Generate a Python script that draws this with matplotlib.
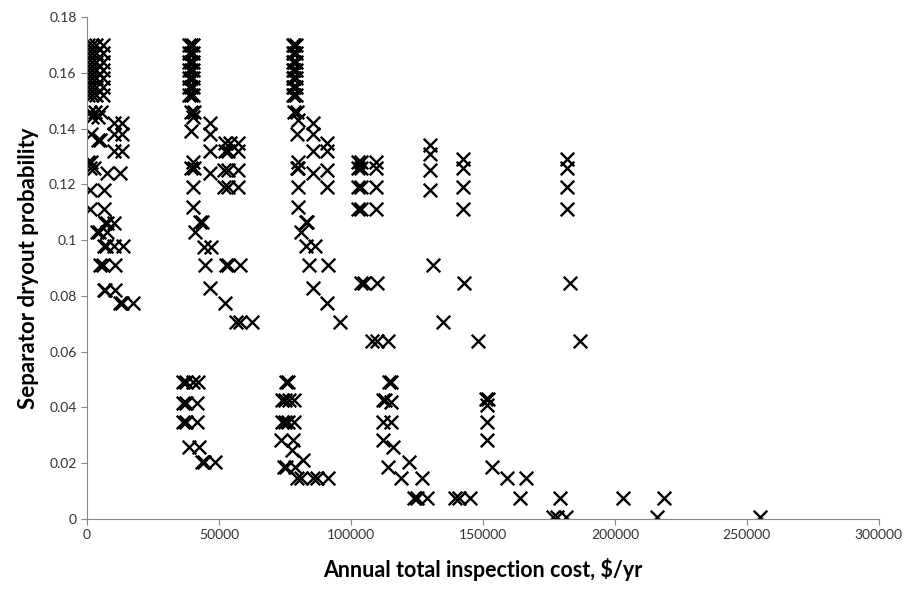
import matplotlib.pyplot as plt

# stacked points at the top of the three left clusters
stack_probs = [0.170, 0.167, 0.164, 0.161, 0.158, 0.155, 0.152]
stack_costs_a = [500, 2000, 3500, 6000]
stack_costs_b = [38500, 39500, 40200]
stack_costs_c = [78000, 78600, 79200]

# (probability, [costs]) rows
rows_a = [
    (0.146, [1000, 3000, 5500]), (0.144, [2000, 4000]), (0.142, [10200, 13300]),
    (0.138, [1500, 10200, 13300]), (0.136, [4000, 4800]), (0.132, [10200, 13300]),
    (0.128, [500, 1500]), (0.126, [1000, 2500]), (0.124, [7500, 12500]),
    (0.118, [1000, 6400]), (0.111, [1000, 6400]), (0.106, [6800, 7500, 10200]),
    (0.103, [3800, 4500, 7600]), (0.098, [6400, 7200, 10200, 13700]),
    (0.091, [5000, 6000, 10500]), (0.082, [6400, 7000, 10500]),
    (0.0775, [12500, 13300, 17500]),
]
rows_b = [
    (0.146, [39500, 40500]), (0.144, [40000]), (0.142, [46600]), (0.139, [39500]),
    (0.138, [46600]), (0.135, [52300, 54000, 57200]), (0.132, [46600, 52300, 53500, 57200]),
    (0.128, [40000]), (0.126, [39500, 40500]), (0.124, [46600]),
    (0.125, [52000, 53500, 57200]), (0.119, [40000, 52000, 53500, 57200]),
    (0.112, [40000]), (0.1065, [42700, 43500]), (0.103, [41000]),
    (0.0975, [44500, 47000]), (0.091, [44700, 52500, 53500, 58000]),
    (0.083, [46600]), (0.0775, [52300]), (0.0706, [56500, 58000, 62500]),
]
rows_c = [
    (0.146, [78500, 79500]), (0.143, [80000]), (0.142, [85600]), (0.138, [79500, 85600]),
    (0.135, [90900]), (0.132, [85600, 90900]), (0.128, [80000]), (0.126, [79500, 80000]),
    (0.124, [85600]), (0.125, [90900]), (0.119, [80000, 90900]), (0.112, [79800]),
    (0.1065, [83000, 83500]), (0.103, [81000]), (0.098, [83000, 86400]),
    (0.091, [84000, 91300]), (0.083, [85600]), (0.0775, [90900]), (0.0706, [95800]),
]
rows_right = [
    (0.128, [102500, 104000, 109500]), (0.126, [102500, 104000, 109500]),
    (0.119, [102500, 104000, 109500]), (0.111, [102500, 104000, 109500]),
    (0.0846, [104000, 105000, 110000]), (0.064, [108000, 110000, 114000]),
    (0.134, [130000]), (0.131, [130000]), (0.125, [130000]), (0.118, [130000]),
    (0.091, [131000]), (0.0706, [135000]),
    (0.129, [142500]), (0.126, [142500]), (0.119, [142500]), (0.111, [142500]),
    (0.0846, [143000]), (0.064, [148000]),
    (0.129, [181800]), (0.126, [181800]), (0.119, [181800]), (0.111, [181800]),
    (0.0846, [183000]), (0.064, [186700]),
]
rows_low = [
    (0.049, [36500, 37500, 40000, 42000]), (0.0416, [36500, 37500, 41500]),
    (0.0348, [36500, 37500, 41500]), (0.0258, [38500, 42500]),
    (0.0204, [43500, 44500, 48500]),
    (0.049, [75500, 76000]), (0.0427, [74000, 75000, 76500, 78500]),
    (0.0348, [74000, 75000, 76000, 78500]), (0.0283, [73500, 78000]),
    (0.0247, [77500]), (0.0186, [74500, 75500, 79000]), (0.021, [82000]),
    (0.0147, [79500, 81000, 85500, 87000, 91500]),
    (0.049, [114500, 115000]), (0.0427, [112000, 113000]), (0.042, [115000]),
    (0.0348, [112000, 115000]), (0.0283, [112000]), (0.0258, [116000]),
    (0.0186, [114000]), (0.0204, [122000]), (0.0147, [119000, 127000]),
    (0.0075, [124000, 125000, 129000]),
    (0.0075, [139500, 141000, 145000]),
    (0.043, [151300, 151800]), (0.041, [151500]), (0.0348, [151500]),
    (0.0283, [151500]), (0.0186, [153300]), (0.0147, [159000, 166500]),
    (0.0075, [164000]),
    (0.0007, [176500, 178000, 181500]), (0.0075, [179200]),
    (0.0075, [203000, 218500]), (0.0007, [215800, 254800]),
]

x_ticks = [0, 50000, 100000, 150000, 200000, 250000, 300000]
y_ticks = [0, 0.02, 0.04, 0.06, 0.08, 0.1, 0.12, 0.14, 0.16, 0.18]
y_tick_labels = ["0", "0.02", "0.04", "0.06", "0.08", "0.1", "0.12", "0.14", "0.16", "0.18"]

cost = []
prob = []
for sc in (stack_costs_a, stack_costs_b, stack_costs_c):
    for c in sc:
        for p in stack_probs:
            cost.append(c)
            prob.append(p)
for rows in (rows_a, rows_b, rows_c, rows_right, rows_low):
    for p, cs in rows:
        for c in cs:
            cost.append(c)
            prob.append(p)

plt.rcParams["font.family"] = ["Lato", "DejaVu Sans"]

fig = plt.figure(figsize=(9.06, 5.93), dpi=100)
ax = fig.add_axes([0.096, 0.1248, 0.874, 0.8465])

ax.scatter(cost, prob, marker="x", s=95, color="black", linewidths=1.7)

ax.set_xlim(0, 300000)
ax.set_ylim(0, 0.18)
ax.set_xticks(x_ticks)
ax.set_xticklabels([str(v) for v in x_ticks])
ax.set_yticks(y_ticks)
ax.set_yticklabels(y_tick_labels)
ax.tick_params(labelsize=10, colors="#333333", length=4, width=0.8)
ax.tick_params(axis="both", color="#888888")

for s in ["top", "right"]:
    ax.spines[s].set_visible(False)
for s in ["left", "bottom"]:
    ax.spines[s].set_color("#888888")

ax.set_xlabel("Annual total inspection cost, $/yr", fontsize=15.5, fontweight="bold", labelpad=12)
ax.set_ylabel("Separator dryout probability", fontsize=16, fontweight="bold", labelpad=7)

fig.savefig("out.png", dpi=100)
